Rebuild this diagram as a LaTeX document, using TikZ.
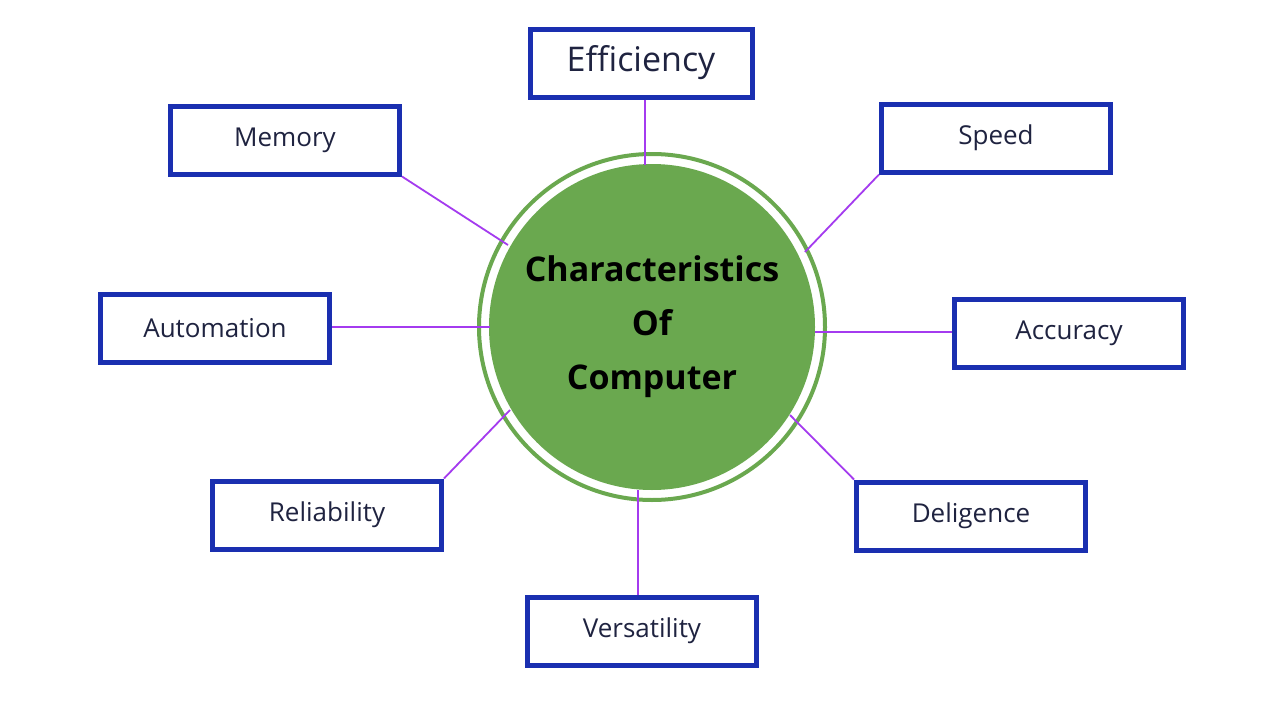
\documentclass[tikz,border=0pt]{standalone}
\usepackage{fontspec}
\setmainfont{Open Sans}
\definecolor{boxblue}{HTML}{1A2FB0}
\definecolor{lnpurple}{HTML}{A43BEF}
\definecolor{cgreen}{HTML}{6AA84F}
\definecolor{txtnavy}{HTML}{1F2340}
\begin{document}
\begin{tikzpicture}[x=1pt,y=-1pt,
  box/.style={draw=boxblue,line width=5pt,minimum width=229pt,minimum height=68pt,inner sep=0pt,font=\fontsize{26}{30}\selectfont,text=txtnavy},
  conn/.style={draw=lnpurple,line width=1.8pt}]
\useasboundingbox[fill=white] (0,0) rectangle (1280,720);
\node[circle,draw=cgreen,line width=4pt,minimum size=346pt,inner sep=0pt] (ring) at (652,327) {};
\node[circle,fill=cgreen,minimum size=326pt,inner sep=0pt,align=center,font=\bfseries\fontsize{34}{54}\selectfont,text=black] (c) at (652,327) {Characteristics\\Of\\Computer};
\node[box,minimum width=222pt,font=\fontsize{34}{38}\selectfont\color{black}] (eff) at (641,63) {Efficiency};
\node[box] (mem) at (285,140) {Memory};
\node[box] (spd) at (996,138) {Speed};
\node[box] (aut) at (215,328) {Automation};
\node[box] (acc) at (1069,333) {Accuracy};
\node[box] (rel) at (327,515) {Reliability};
\node[box] (del) at (971,516) {Deligence};
\node[box] (ver) at (642,631) {Versatility};
\coordinate (ce) at (645,165);
\coordinate (cm) at (508,245);
\coordinate (cs) at (805,252);
\coordinate (ca) at (490,327);
\coordinate (cc) at (815,332);
\coordinate (cr) at (510,410);
\coordinate (cd) at (790,415);
\coordinate (cv) at (638,490);
\draw[conn] (eff.south -| ce) -- (ce);
\draw[conn] (mem.south east) -- (cm);
\draw[conn] (spd.south west) -- (cs);
\draw[conn] (aut.east |- ca) -- (ca);
\draw[conn] (acc.west |- cc) -- (cc);
\draw[conn] (rel.north east) -- (cr);
\draw[conn] (del.north west) -- (cd);
\draw[conn] (ver.north -| cv) -- (cv);
\end{tikzpicture}
\end{document}
